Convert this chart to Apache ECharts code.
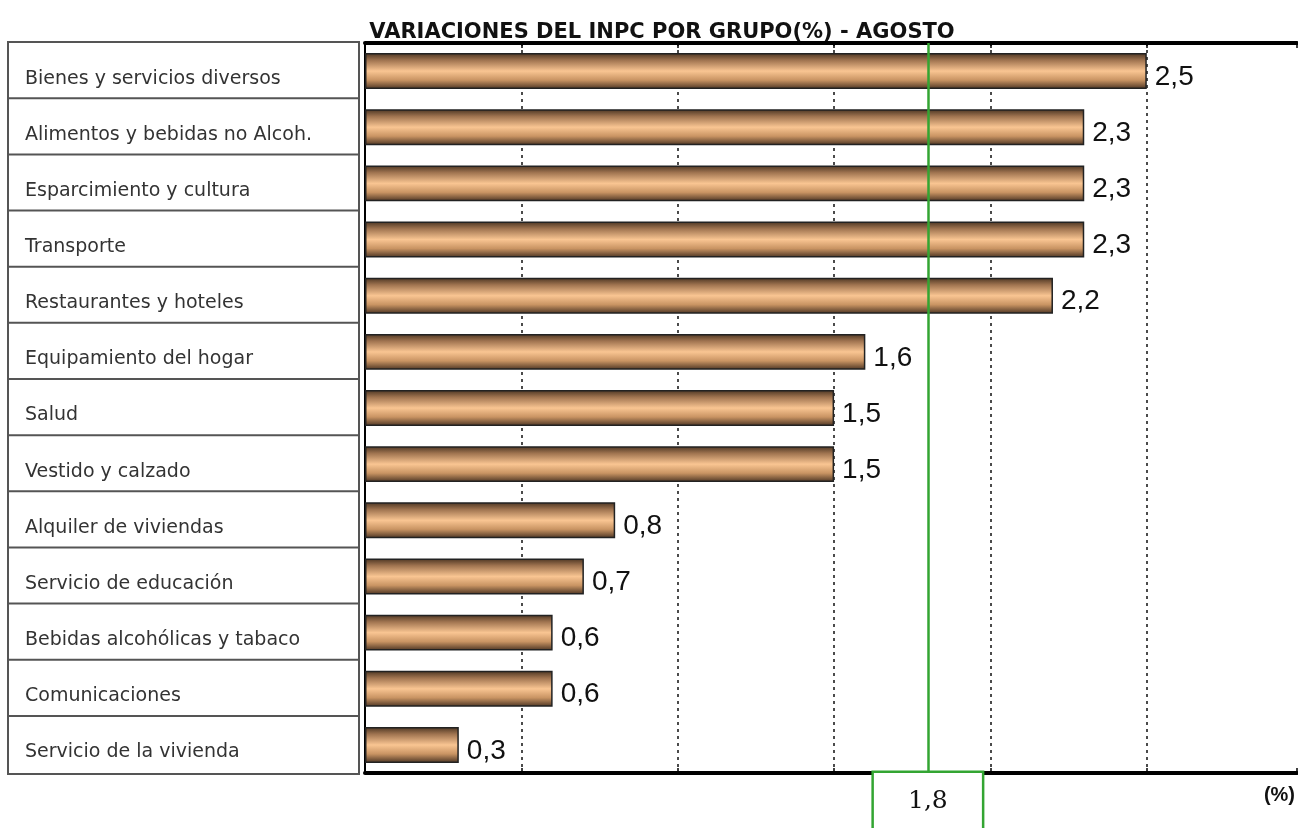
<!DOCTYPE html>
<html>
<head>
<meta charset="utf-8">
<script src="https://cdn.jsdelivr.net/npm/echarts@6/dist/echarts.min.js"></script>
<style>
  html, body { margin: 0; padding: 0; background: #fff; }
  #chart { width: 1298px; height: 828px; }
</style>
</head>
<body>
<div id="chart"></div>
<script>
const titleText = 'VARIACIONES DEL INPC POR GRUPO(%) - AGOSTO';
const categories = [
  'Bienes y servicios diversos',
  'Alimentos y bebidas no Alcoh.',
  'Esparcimiento y cultura',
  'Transporte',
  'Restaurantes y hoteles',
  'Equipamiento del hogar',
  'Salud',
  'Vestido y calzado',
  'Alquiler de viviendas',
  'Servicio de educación',
  'Bebidas alcohólicas y tabaco',
  'Comunicaciones',
  'Servicio de la vivienda'
];
const values = [2.5, 2.3, 2.3, 2.3, 2.2, 1.6, 1.5, 1.5, 0.8, 0.7, 0.6, 0.6, 0.3];
const generalValue = [1.8];
const axisUnit = '(%)';

const fmt = v => Number(v).toFixed(1).replace('.', ',');
const green = '#33a532';

const chart = echarts.init(document.getElementById('chart'), null, { renderer: 'canvas' });
chart.setOption({
  animation: false,
  backgroundColor: '#fff',
  title: {
    text: titleText,
    left: 657,
    textAlign: 'center',
    top: 17,
    textStyle: { fontFamily: 'DejaVu Sans', fontWeight: 'bold', fontSize: 21, color: '#111' }
  },
  grid: { left: 365, right: 0, top: 43, bottom: 55, containLabel: false },
  xAxis: [
    {
      type: 'value', position: 'bottom', min: 0, max: 2.98, interval: 0.5,
      axisLine: { show: true, lineStyle: { color: '#000', width: 4 } },
      axisTick: { show: true, inside: true, length: 5, lineStyle: { color: '#000', width: 1.5 } },
      axisLabel: { show: false },
      splitLine: { show: true, showMaxLine: false, lineStyle: { color: '#111', width: 1.5, type: [3, 4] } },
      name: axisUnit, nameLocation: 'end', nameGap: -33,
      nameTextStyle: { fontFamily: 'Liberation Sans', fontWeight: 'bold', fontSize: 20, color: '#111', verticalAlign: 'top', padding: [12, 0, 0, 0] }
    },
    {
      type: 'value', position: 'top', min: 0, max: 2.98, interval: 0.5,
      axisLine: { show: true, lineStyle: { color: '#000', width: 4 } },
      axisTick: { show: true, inside: true, length: 5, lineStyle: { color: '#000', width: 1.5 } },
      axisLabel: { show: false },
      splitLine: { show: false }
    }
  ],
  yAxis: {
    type: 'category', inverse: true, data: categories,
    axisLine: { show: true, lineStyle: { color: '#000', width: 2 } },
    axisTick: { show: false },
    splitLine: { show: false },
    axisLabel: {
      interval: 0,
      margin: 7,
      formatter: v => '{a|' + v + '}',
      backgroundColor: '#fff',
      borderColor: '#555',
      borderWidth: 2,
      padding: [15, 0, 0, 16],
      rich: {
        a: {
          width: 333, height: 41, lineHeight: 41, align: 'left',
          fontFamily: 'DejaVu Sans', fontSize: 19, color: '#333'
        }
      }
    }
  },
  series: [{
    type: 'bar',
    data: values,
    xAxisIndex: 0,
    barCategoryGap: '36%',
    itemStyle: {
      borderColor: '#222',
      borderWidth: 1.5,
      color: new echarts.graphic.LinearGradient(0, 0, 0, 1, [
        { offset: 0, color: '#4a3422' },
        { offset: 0.2, color: '#a07450' },
        { offset: 0.5, color: '#f9c592' },
        { offset: 0.75, color: '#c99463' },
        { offset: 1, color: '#4a3322' }
      ])
    },
    label: {
      show: true, position: 'right', distance: 8, offset: [0, 6],
      formatter: p => fmt(p.value),
      fontFamily: 'Liberation Sans', fontSize: 28, color: '#111'
    },
    markLine: {
      silent: true,
      symbol: ['none', 'none'],
      lineStyle: { color: green, width: 2.5, type: 'solid' },
      label: {
        show: true, position: 'end', distance: 0,
        formatter: p => fmt(p.value),
        fontFamily: 'DejaVu Serif', fontSize: 25, color: '#111',
        backgroundColor: '#fff', borderColor: green, borderWidth: 2.5,
        width: 108, height: 56, lineHeight: 56, align: 'center', padding: 0
      },
      data: generalValue.map(v => ({ xAxis: v }))
    }
  }]
});
</script>
</body>
</html>
